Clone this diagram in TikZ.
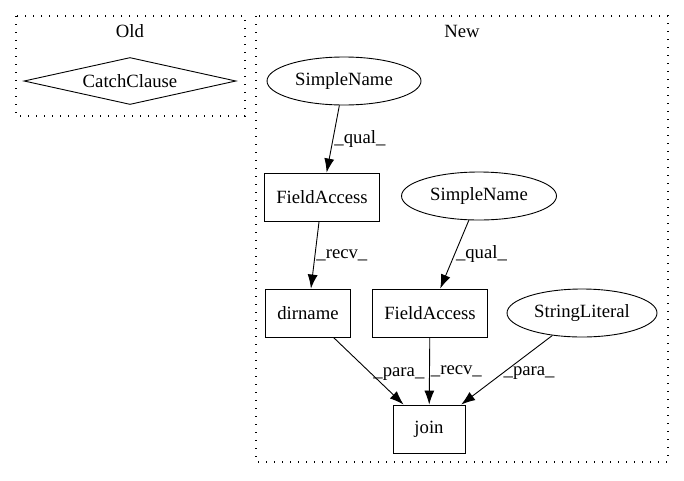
\documentclass[tikz,border=0pt]{standalone}
\usepackage{fontspec}
\setmainfont{Liberation Serif}
\usetikzlibrary{shapes.geometric,arrows.meta}

\tikzset{
  astbox/.style={draw, rectangle, minimum height=48pt, minimum width=72pt, inner xsep=12pt},
  astoval/.style={draw, ellipse, minimum height=48pt},
  cluster/.style={draw, line width=1.1pt, dash pattern=on 1.3pt off 6.7pt},
  elabel/.style={right, inner sep=1pt},
}

\begin{document}
\begin{tikzpicture}[x=1pt, y=-1pt, line width=0.9pt, >={Latex[length=14pt,width=10pt]},
  every node/.style={font=\fontsize{18.7}{22}\selectfont}]
    \useasboundingbox (0,0) rectangle (684,480);

    % clusters
    \draw[cluster] (16,16) rectangle (245,116);
    \node(oldlbl) at (130,31) {Old};
    \draw[cluster] (256,16) rectangle (668,462);
    \node(newlbl) at (462,31) {New};

    % Old
    \node[draw, diamond, aspect=3.6, minimum width=212pt, minimum height=47pt, inner sep=0pt](catch) at (130,81) {CatchClause};

    % New
    \node[astoval, minimum width=154pt](sn1) at (344,81) {SimpleName};
    \node[astbox, minimum width=111pt](fa1) at (322,197) {FieldAccess};
    \node[astoval, minimum width=155pt](sn2) at (479,196) {SimpleName};
    \node[astbox, minimum width=82pt](dirname) at (308,313) {dirname};
    \node[astbox, minimum width=111pt](fa2) at (430,313) {FieldAccess};
    \node[astoval, minimum width=150pt](strlit) at (582,313) {StringLiteral};
    \node[astbox](join) at (429,429) {join};

    \draw[->] (sn1) edge node[pos=0.5, elabel] {\_qual\_} (fa1)
              (fa1) edge node[pos=0.5, elabel] {\_recv\_} (dirname)
              (sn2) edge node[pos=0.5, elabel] {\_qual\_} (fa2)
              (dirname) edge node[pos=0.55, elabel] {\_para\_} (join)
              (fa2) edge node[pos=0.5, elabel] {\_recv\_} (join)
              (strlit) edge node[pos=0.55, elabel] {\_para\_} (join);
\end{tikzpicture}
\end{document}
